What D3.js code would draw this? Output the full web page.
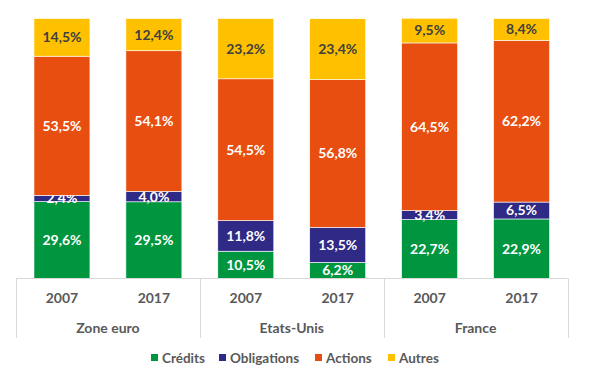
<!DOCTYPE html>
<html>
<head>
<meta charset="utf-8">
<script src="https://d3js.org/d3.v7.min.js"></script>
<style>
  body { margin: 0; padding: 0; background: #fff; }
  text { font-family: Lato, "Open Sans", sans-serif; font-weight: bold; }
</style>
</head>
<body>
<div id="chart"></div>
<script>
// data
var groups = ["Zone euro", "Etats-Unis", "France"];
var years = ["2007", "2017"];
var series = ["Crédits", "Obligations", "Actions", "Autres"];
var colors = ["#009640", "#2F2A85", "#E84E10", "#FFC000"];
var credits     = [29.6, 29.5, 10.5, 6.2, 22.7, 22.9];
var obligations = [2.4, 4.0, 11.8, 13.5, 3.4, 6.5];
var actions     = [53.5, 54.1, 54.5, 56.8, 64.5, 62.2];
var autres      = [14.5, 12.4, 23.2, 23.4, 9.5, 8.4];

var width = 601, height = 380;
var plotLeft = 16, plotRight = 567.5, plotTop = 18.5, base = 278.5;

var rows = [];
groups.forEach(function(g, gi) {
  years.forEach(function(yr, yi) {
    var i = gi * 2 + yi;
    rows.push({key: i, group: g, year: yr,
      "Crédits": credits[i], "Obligations": obligations[i],
      "Actions": actions[i], "Autres": autres[i]});
  });
});

var svg = d3.select("#chart").append("svg")
  .attr("width", width).attr("height", height);

var x = d3.scaleBand()
  .domain(rows.map(function(d) { return d.key; }))
  .range([plotLeft, plotRight])
  .paddingInner(0.391)
  .paddingOuter(0.1955);

var y = d3.scaleLinear().domain([0, 100]).range([base, plotTop]);

var color = d3.scaleOrdinal().domain(series).range(colors);

var stack = d3.stack().keys(series)(rows);

var layer = svg.append("g").selectAll("g")
  .data(stack).enter().append("g")
    .attr("fill", function(d) { return color(d.key); });

layer.selectAll("rect")
  .data(function(d) { return d; })
  .enter().append("rect")
    .attr("x", function(d) { return x(d.data.key); })
    .attr("width", x.bandwidth())
    .attr("y", function(d) { return y(d[1]); })
    .attr("height", function(d) { return y(d[0]) - y(d[1]); })
    .attr("stroke", "#fff")
    .attr("stroke-width", 0.6);

// value labels
layer.each(function(s) {
  d3.select(this).selectAll("text")
    .data(s).enter().append("text")
      .attr("x", function(d) { return x(d.data.key) + x.bandwidth() / 2; })
      .attr("y", function(d) { return (y(d[0]) + y(d[1])) / 2; })
      .attr("dy", "0.35em")
      .attr("text-anchor", "middle")
      .attr("font-size", 14)
      .attr("fill", s.key == "Autres" ? "#404040" : "#fff")
      .text(function(d) { return (d[1] - d[0]).toFixed(1).replace(".", ",") + "%"; });
});

// category axis
var axisCol = "#d9d9d9";
svg.append("line")
  .attr("x1", plotLeft).attr("x2", plotRight)
  .attr("y1", base).attr("y2", base)
  .attr("stroke", axisCol).attr("stroke-width", 1);

var gx = d3.scaleBand().domain(groups).range([plotLeft, plotRight]);
groups.concat(["end"]).forEach(function(g, i) {
  var xx = i < groups.length ? gx(g) : plotRight;
  svg.append("line")
    .attr("x1", Math.round(xx) + 0.5).attr("x2", Math.round(xx) + 0.5)
    .attr("y1", base).attr("y2", 338)
    .attr("stroke", axisCol).attr("stroke-width", 1);
});

svg.append("g").selectAll("text")
  .data(rows).enter().append("text")
    .attr("x", function(d) { return x(d.key) + x.bandwidth() / 2; })
    .attr("y", 298).attr("dy", "0.35em")
    .attr("text-anchor", "middle")
    .attr("font-size", 14)
    .attr("fill", "#595959")
    .text(function(d) { return d.year; });

svg.append("g").selectAll("text")
  .data(groups).enter().append("text")
    .attr("x", function(d) { return gx(d) + gx.bandwidth() / 2; })
    .attr("y", 328).attr("dy", "0.35em")
    .attr("text-anchor", "middle")
    .attr("font-size", 14)
    .attr("fill", "#595959")
    .text(function(d) { return d; });

// legend
var legX = [151, 219, 315, 388];
var leg = svg.append("g").selectAll("g")
  .data(series).enter().append("g")
    .attr("transform", function(d, i) { return "translate(" + legX[i] + ",358)"; });
leg.append("rect")
  .attr("x", 0).attr("y", -4).attr("width", 7).attr("height", 7)
  .attr("fill", function(d) { return color(d); });
leg.append("text")
  .attr("x", 11).attr("y", 0).attr("dy", "0.35em")
  .attr("font-size", 13.5)
  .attr("fill", "#595959")
  .text(function(d) { return d; });
</script>
</body>
</html>
